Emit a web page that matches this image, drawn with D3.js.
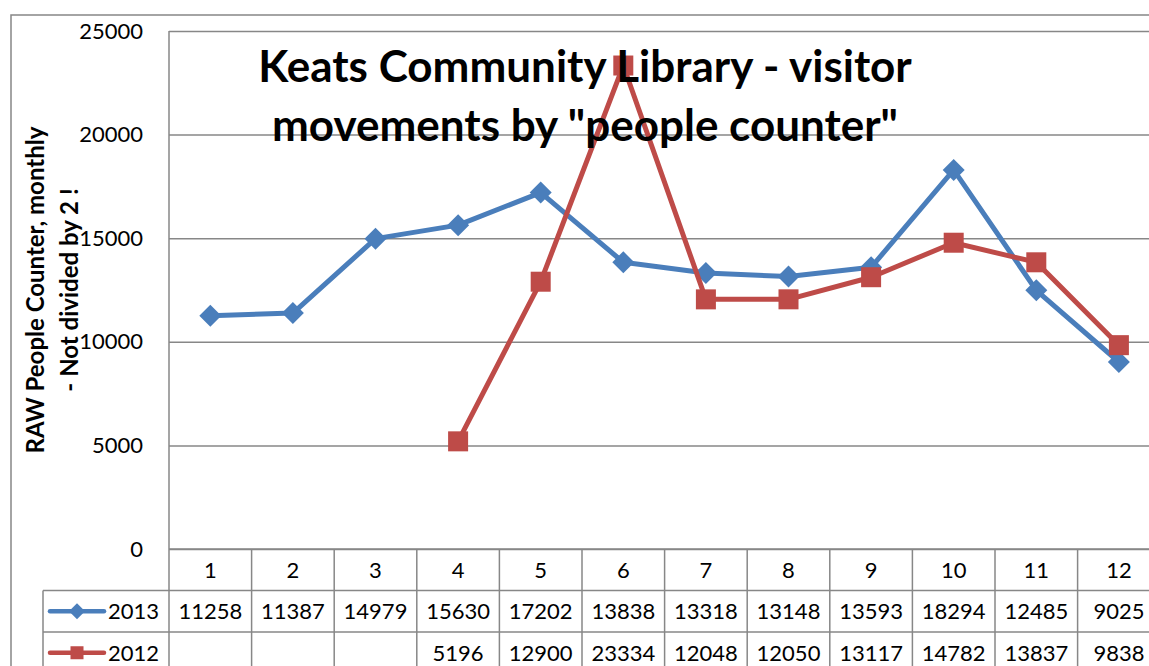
<!DOCTYPE html>
<html>
<head>
<meta charset="utf-8">
<script src="https://cdn.jsdelivr.net/npm/d3@7"></script>
<style>
  html, body { margin: 0; padding: 0; background: #fff; overflow: hidden; }
  svg { display: block; font-family: Lato, "Liberation Sans", sans-serif; }
</style>
</head>
<body>
<div id="chart"></div>
<script>
// chart data
const months = [1, 2, 3, 4, 5, 6, 7, 8, 9, 10, 11, 12];
const visitors2013 = [11258, 11387, 14979, 15630, 17202, 13838, 13318, 13148, 13593, 18294, 12485, 9025];
const visitors2012 = [null, null, null, 5196, 12900, 23334, 12048, 12050, 13117, 14782, 13837, 9838];
const yTicks = [0, 5000, 10000, 15000, 20000, 25000];
const titleLines = ["Keats Community Library - visitor", "movements by \"people counter\""];
const yLabelLines = ["RAW People Counter, monthly", "- Not divided by 2 !"];

const series = [
  { name: "2013", values: visitors2013, color: "#4a7ebb", marker: "diamond" },
  { name: "2012", values: visitors2012, color: "#be4b48", marker: "square" }
];

const width = 1149, height = 666;
const plot = { left: 169, top: 31, bottom: 549 };
const colW = 82.6;
const rowH = 41.5;
const gridColor = "#878787";
const fontSize = 22;

const svg = d3.select("#chart").append("svg")
    .attr("width", width)
    .attr("height", height);

// outer chart border
svg.append("rect")
    .attr("x", 11).attr("y", 15)
    .attr("width", width + 20).attr("height", height + 20)
    .attr("fill", "none").attr("stroke", gridColor).attr("stroke-width", 1.5);

const x = d3.scaleBand()
    .domain(months)
    .range([plot.left, plot.left + colW * months.length]);

const y = d3.scaleLinear()
    .domain([0, 25000])
    .range([plot.bottom, plot.top]);

// gridlines + y tick labels
const yAxis = d3.axisLeft(y)
    .tickValues(yTicks)
    .tickFormat(d3.format("d"))
    .tickSize(-(width - plot.left + 20))
    .tickPadding(26);
const gy = svg.append("g")
    .attr("transform", `translate(${plot.left},0)`)
    .call(yAxis);
gy.select(".domain").remove();
gy.selectAll(".tick line").attr("stroke", gridColor).attr("stroke-width", 1.5);
gy.selectAll(".tick text")
    .attr("font-size", fontSize).attr("fill", "#000")
    .attr("font-family", "Lato, sans-serif");

// plot area left edge (continues into the data table)
svg.append("line")
    .attr("x1", plot.left).attr("x2", plot.left)
    .attr("y1", plot.top).attr("y2", height + 5)
    .attr("stroke", gridColor).attr("stroke-width", 1.5);

// y axis title
const yl = svg.append("text")
    .attr("transform", "translate(44,290) rotate(-90)")
    .attr("text-anchor", "middle")
    .attr("font-weight", "bold").attr("font-size", 24);
yLabelLines.forEach((t, i) => {
  yl.append("tspan").attr("x", 0).attr("dy", i === 0 ? 0 : 34).text(t);
});

// lines and markers
const line = d3.line()
    .defined(d => d != null)
    .x((d, i) => x(months[i]) + x.bandwidth() / 2)
    .y(d => y(d));

function drawMarker(g, type, color, size) {
  if (type === "diamond") {
    g.append("path")
        .attr("d", `M0,${-size}L${size},0L0,${size}L${-size},0Z`)
        .attr("fill", color);
  } else {
    g.append("rect")
        .attr("x", -size).attr("y", -size)
        .attr("width", size * 2).attr("height", size * 2)
        .attr("fill", color);
  }
}

series.forEach(s => {
  svg.append("path")
      .datum(s.values)
      .attr("d", line)
      .attr("fill", "none")
      .attr("stroke", s.color)
      .attr("stroke-width", 5)
      .attr("stroke-linejoin", "round");

  s.values.forEach((v, i) => {
    if (v == null) return;
    const g = svg.append("g")
        .attr("transform", `translate(${x(months[i]) + x.bandwidth() / 2},${y(v)})`);
    drawMarker(g, s.marker, s.color, s.marker === "diamond" ? 11 : 10);
  });
});

// title
const title = svg.append("text")
    .attr("text-anchor", "middle")
    .attr("font-weight", "bold")
    .attr("font-size", 44)
    .attr("fill", "#000");
titleLines.forEach((t, i) => {
  title.append("tspan").attr("x", 585).attr("y", 82 + i * 59).text(t);
});

// data table
const table = svg.append("g").attr("font-size", fontSize);
const tableTop = plot.bottom;
const legendLeft = 43;

// header row (month numbers)
table.append("line")
    .attr("x1", plot.left).attr("x2", width + 5)
    .attr("y1", tableTop).attr("y2", tableTop)
    .attr("stroke", gridColor).attr("stroke-width", 1.5);
months.forEach(m => {
  table.append("text")
      .attr("x", x(m) + x.bandwidth() / 2)
      .attr("y", tableTop + rowH / 2 + 8)
      .attr("text-anchor", "middle")
      .text(m);
});
// column separators
months.forEach(m => {
  table.append("line")
      .attr("x1", x(m) + x.bandwidth()).attr("x2", x(m) + x.bandwidth())
      .attr("y1", tableTop).attr("y2", height + 5)
      .attr("stroke", gridColor).attr("stroke-width", 1.5);
});

series.forEach((s, r) => {
  const top = tableTop + rowH * (r + 1);
  table.append("line")
      .attr("x1", legendLeft).attr("x2", width + 5)
      .attr("y1", top).attr("y2", top)
      .attr("stroke", gridColor).attr("stroke-width", 1.5);
  const cy = top + rowH / 2;
  // legend key
  table.append("line")
      .attr("x1", 50).attr("x2", 104)
      .attr("y1", cy).attr("y2", cy)
      .attr("stroke", s.color).attr("stroke-width", 4.5)
      .attr("stroke-linecap", "round");
  const g = table.append("g").attr("transform", `translate(77,${cy})`);
  drawMarker(g, s.marker, s.color, s.marker === "diamond" ? 8 : 6.5);
  table.append("text")
      .attr("x", 108).attr("y", cy + 8)
      .text(s.name);
  s.values.forEach((v, i) => {
    if (v == null) return;
    table.append("text")
        .attr("x", x(months[i]) + x.bandwidth() / 2)
        .attr("y", cy + 8)
        .attr("text-anchor", "middle")
        .text(v);
  });
});
table.append("line")
    .attr("x1", legendLeft).attr("x2", legendLeft)
    .attr("y1", tableTop + rowH).attr("y2", height + 5)
    .attr("stroke", gridColor).attr("stroke-width", 1.5);
</script>
</body>
</html>
